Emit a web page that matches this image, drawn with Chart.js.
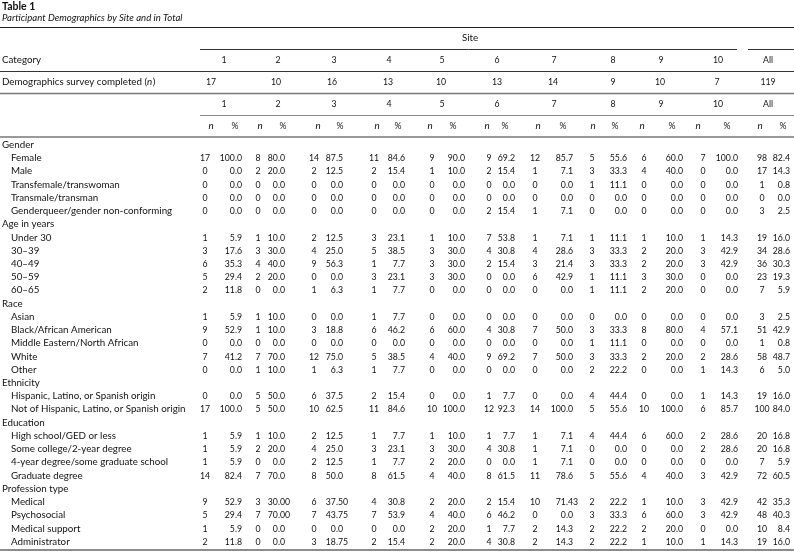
<!DOCTYPE html>
<html>
<head>
<meta charset="utf-8">
<script src="https://cdn.jsdelivr.net/npm/chart.js@4"></script>
<style>
  html, body { margin: 0; padding: 0; background: #fff; }
  canvas { display: block; }
</style>
</head>
<body>
<canvas id="table" width="794" height="552"></canvas>
<script>
// --- data ---
const sites = ['1', '2', '3', '4', '5', '6', '7', '8', '9', '10', 'All'];
const surveyCompleted = [17, 10, 16, 13, 10, 13, 14, 9, 10, 7, 119];

const genderLabels = ['Female', 'Male', 'Transfemale/transwoman', 'Transmale/transman', 'Genderqueer/gender non-conforming'];
const genderN = [
  [17, 8, 14, 11, 9, 9, 12, 5, 6, 7, 98],
  [0, 2, 2, 2, 1, 2, 1, 3, 4, 0, 17],
  [0, 0, 0, 0, 0, 0, 0, 1, 0, 0, 1],
  [0, 0, 0, 0, 0, 0, 0, 0, 0, 0, 0],
  [0, 0, 0, 0, 0, 2, 1, 0, 0, 0, 3]
];
const genderPct = [
  ['100.0', '80.0', '87.5', '84.6', '90.0', '69.2', '85.7', '55.6', '60.0', '100.0', '82.4'],
  ['0.0', '20.0', '12.5', '15.4', '10.0', '15.4', '7.1', '33.3', '40.0', '0.0', '14.3'],
  ['0.0', '0.0', '0.0', '0.0', '0.0', '0.0', '0.0', '11.1', '0.0', '0.0', '0.8'],
  ['0.0', '0.0', '0.0', '0.0', '0.0', '0.0', '0.0', '0.0', '0.0', '0.0', '0.0'],
  ['0.0', '0.0', '0.0', '0.0', '0.0', '15.4', '7.1', '0.0', '0.0', '0.0', '2.5']
];

const ageLabels = ['Under 30', '30–39', '40–49', '50–59', '60–65'];
const ageN = [
  [1, 1, 2, 3, 1, 7, 1, 1, 1, 1, 19],
  [3, 3, 4, 5, 3, 4, 4, 3, 2, 3, 34],
  [6, 4, 9, 1, 3, 2, 3, 3, 2, 3, 36],
  [5, 2, 0, 3, 3, 0, 6, 1, 3, 0, 23],
  [2, 0, 1, 1, 0, 0, 0, 1, 2, 0, 7]
];
const agePct = [
  ['5.9', '10.0', '12.5', '23.1', '10.0', '53.8', '7.1', '11.1', '10.0', '14.3', '16.0'],
  ['17.6', '30.0', '25.0', '38.5', '30.0', '30.8', '28.6', '33.3', '20.0', '42.9', '28.6'],
  ['35.3', '40.0', '56.3', '7.7', '30.0', '15.4', '21.4', '33.3', '20.0', '42.9', '30.3'],
  ['29.4', '20.0', '0.0', '23.1', '30.0', '0.0', '42.9', '11.1', '30.0', '0.0', '19.3'],
  ['11.8', '0.0', '6.3', '7.7', '0.0', '0.0', '0.0', '11.1', '20.0', '0.0', '5.9']
];

const raceLabels = ['Asian', 'Black/African American', 'Middle Eastern/North African', 'White', 'Other'];
const raceN = [
  [1, 1, 0, 1, 0, 0, 0, 0, 0, 0, 3],
  [9, 1, 3, 6, 6, 4, 7, 3, 8, 4, 51],
  [0, 0, 0, 0, 0, 0, 0, 1, 0, 0, 1],
  [7, 7, 12, 5, 4, 9, 7, 3, 2, 2, 58],
  [0, 1, 1, 1, 0, 0, 0, 2, 0, 1, 6]
];
const racePct = [
  ['5.9', '10.0', '0.0', '7.7', '0.0', '0.0', '0.0', '0.0', '0.0', '0.0', '2.5'],
  ['52.9', '10.0', '18.8', '46.2', '60.0', '30.8', '50.0', '33.3', '80.0', '57.1', '42.9'],
  ['0.0', '0.0', '0.0', '0.0', '0.0', '0.0', '0.0', '11.1', '0.0', '0.0', '0.8'],
  ['41.2', '70.0', '75.0', '38.5', '40.0', '69.2', '50.0', '33.3', '20.0', '28.6', '48.7'],
  ['0.0', '10.0', '6.3', '7.7', '0.0', '0.0', '0.0', '22.2', '0.0', '14.3', '5.0']
];

const ethnicityLabels = ['Hispanic, Latino, or Spanish origin', 'Not of Hispanic, Latino, or Spanish origin'];
const ethnicityN = [
  [0, 5, 6, 2, 0, 1, 0, 4, 0, 1, 19],
  [17, 5, 10, 11, 10, 12, 14, 5, 10, 6, 100]
];
const ethnicityPct = [
  ['0.0', '50.0', '37.5', '15.4', '0.0', '7.7', '0.0', '44.4', '0.0', '14.3', '16.0'],
  ['100.0', '50.0', '62.5', '84.6', '100.0', '92.3', '100.0', '55.6', '100.0', '85.7', '84.0']
];

const educationLabels = ['High school/GED or less', 'Some college/2-year degree', '4-year degree/some graduate school', 'Graduate degree'];
const educationN = [
  [1, 1, 2, 1, 1, 1, 1, 4, 6, 2, 20],
  [1, 2, 4, 3, 3, 4, 1, 0, 0, 2, 20],
  [1, 0, 2, 1, 2, 0, 1, 0, 0, 0, 7],
  [14, 7, 8, 8, 4, 8, 11, 5, 4, 3, 72]
];
const educationPct = [
  ['5.9', '10.0', '12.5', '7.7', '10.0', '7.7', '7.1', '44.4', '60.0', '28.6', '16.8'],
  ['5.9', '20.0', '25.0', '23.1', '30.0', '30.8', '7.1', '0.0', '0.0', '28.6', '16.8'],
  ['5.9', '0.0', '12.5', '7.7', '20.0', '0.0', '7.1', '0.0', '0.0', '0.0', '5.9'],
  ['82.4', '70.0', '50.0', '61.5', '40.0', '61.5', '78.6', '55.6', '40.0', '42.9', '60.5']
];

const professionLabels = ['Medical', 'Psychosocial', 'Medical support', 'Administrator'];
const professionN = [
  [9, 3, 6, 4, 2, 2, 10, 2, 1, 3, 42],
  [5, 7, 7, 7, 4, 6, 0, 3, 6, 3, 48],
  [1, 0, 0, 0, 2, 1, 2, 2, 2, 0, 10],
  [2, 0, 3, 2, 2, 4, 2, 2, 1, 1, 19]
];
const professionPct = [
  ['52.9', '30.00', '37.50', '30.8', '20.0', '15.4', '71.43', '22.2', '10.0', '42.9', '35.3'],
  ['29.4', '70.00', '43.75', '53.9', '40.0', '46.2', '0.0', '33.3', '60.0', '42.9', '40.3'],
  ['5.9', '0.0', '0.0', '0.0', '20.0', '7.7', '14.3', '22.2', '20.0', '0.0', '8.4'],
  ['11.8', '0.0', '18.75', '15.4', '20.0', '30.8', '14.3', '22.2', '10.0', '14.3', '16.0']
];

// --- layout ---
const FONT = 'Lato, "Open Sans", sans-serif';
const INK = '#111';
const TXT = 0.94;   // horizontal squeeze for words
const NUM = 0.84;   // horizontal squeeze for figures
const nCol = [205, 258, 314, 374, 432, 489, 535, 592, 644, 703, 762];     // n column centres
const pctCol = [242, 285, 343, 405, 465, 515, 573, 627, 683, 738, 790];   // % column right edge
const siteCol = [224, 278, 334, 389, 442, 497, 554, 613, 661, 718, 768];  // header centres
const countCol = [211, 276, 332, 388, 441, 497, 553, 613, 660, 717, 768];
const hdrN = [211, 260, 318, 377, 430, 487, 538, 593, 642, 698, 760];
const hdrPct = [235, 283, 340, 398, 453, 505, 563, 615, 672, 727, 783];

const sections = [
  { title: 'Gender', labels: genderLabels, n: genderN, pct: genderPct },
  { title: 'Age in years', labels: ageLabels, n: ageN, pct: agePct },
  { title: 'Race', labels: raceLabels, n: raceN, pct: racePct },
  { title: 'Ethnicity', labels: ethnicityLabels, n: ethnicityN, pct: ethnicityPct },
  { title: 'Education', labels: educationLabels, n: educationN, pct: educationPct },
  { title: 'Profession type', labels: professionLabels, n: professionN, pct: professionPct }
];

const rows = [];
sections.forEach(s => {
  rows.push({ label: s.title, group: true });
  s.labels.forEach((label, i) => rows.push({ label, n: s.n[i], pct: s.pct[i] }));
});

function hline(ctx, x0, x1, y, width, color) {
  ctx.save();
  ctx.strokeStyle = color;
  ctx.lineWidth = width;
  ctx.beginPath();
  ctx.moveTo(x0, y);
  ctx.lineTo(x1, y);
  ctx.stroke();
  ctx.restore();
}

// draw text squeezed horizontally by sx; returns drawn width
function put(ctx, str, px, py, align, font, sx) {
  ctx.save();
  ctx.font = font;
  ctx.textAlign = align;
  ctx.translate(px, py);
  ctx.scale(sx, 1);
  ctx.fillText(str, 0, 0);
  const w = ctx.measureText(str).width * sx;
  ctx.restore();
  return w;
}

const tablePlugin = {
  id: 'tablePlugin',
  afterDraw(chart) {
    const { ctx, scales: { x, y } } = chart;
    const W = chart.width;
    const reg = `10.4px ${FONT}`;
    const ital = `italic 10.4px ${FONT}`;
    ctx.save();
    ctx.fillStyle = INK;
    ctx.textBaseline = 'middle';

    // title block
    put(ctx, 'Table 1', 2, 7, 'left', `bold 10.5px ${FONT}`, 1);
    put(ctx, 'Participant Demographics by Site and in Total', 2, 18, 'left', `italic 10px ${FONT}`, 0.96);

    // rules
    hline(ctx, 0, W, 27.5, 1, '#222');
    hline(ctx, 200, 737, 49.5, 1, '#333');
    hline(ctx, 748, W, 49.5, 1, '#333');
    hline(ctx, 0, W, 71.5, 1, '#333');
    hline(ctx, 0, W, 93.5, 1.6, '#777');
    hline(ctx, 200, W, 115.5, 1, '#888');
    hline(ctx, 0, W, 137, 1.6, '#777');
    hline(ctx, 0, W, 550, 1.6, '#666');

    put(ctx, 'Site', 470, 38, 'center', reg, TXT);
    put(ctx, 'Category', 2, 60, 'left', reg, TXT);
    let px = 2;
    px += put(ctx, 'Demographics survey completed (', px, 82, 'left', reg, TXT);
    px += put(ctx, 'n', px, 82, 'left', ital, TXT) + 0.5;
    put(ctx, ')', px, 82, 'left', reg, TXT);

    sites.forEach((s, i) => {
      put(ctx, s, siteCol[i], 60, 'center', reg, NUM);
      put(ctx, String(surveyCompleted[i]), countCol[i], 82, 'center', reg, NUM);
      put(ctx, s, siteCol[i], 104, 'center', reg, NUM);
      put(ctx, 'n', hdrN[i], 126, 'center', ital, TXT);
      put(ctx, '%', hdrPct[i], 126, 'center', reg, NUM);
    });

    // body rows, placed through the chart scales
    ctx.font = reg;
    const dotW = ctx.measureText('.0').width * NUM;
    rows.forEach((r, ri) => {
      const yy = y.getPixelForValue(ri);
      put(ctx, r.label, r.group ? 2 : 11, yy, 'left', reg, TXT);
      if (r.group) return;
      r.n.forEach((v, ci) => {
        put(ctx, String(v), x.getPixelForValue(nCol[ci]), yy, 'center', reg, NUM);
        const [a, b] = r.pct[ci].split('.');
        const dotX = x.getPixelForValue(pctCol[ci]) - dotW;
        put(ctx, a, dotX, yy, 'right', reg, NUM);
        put(ctx, '.' + b, dotX, yy, 'left', reg, NUM);
      });
    });
    ctx.restore();
  }
};

new Chart(document.getElementById('table'), {
  type: 'scatter',
  data: { datasets: [] },
  options: {
    responsive: false,
    animation: false,
    events: [],
    layout: { padding: { top: 138, bottom: 4, left: 0, right: 0 } },
    plugins: { legend: { display: false }, tooltip: { enabled: false } },
    scales: {
      x: { type: 'linear', min: 0, max: 794, display: false },
      y: { type: 'linear', reverse: true, min: -0.5, max: rows.length - 0.5, display: false }
    }
  },
  plugins: [tablePlugin]
});
</script>
</body>
</html>
